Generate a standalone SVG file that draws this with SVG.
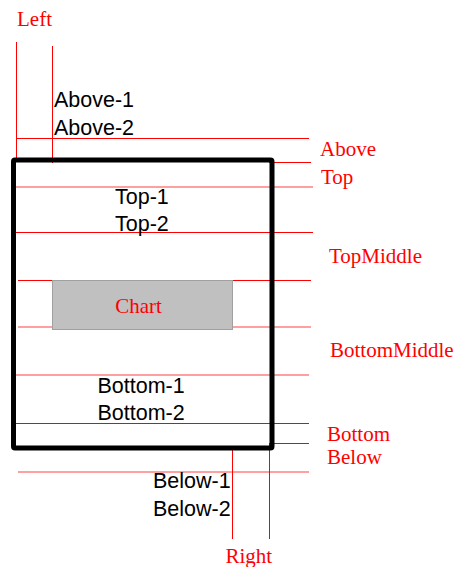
<svg xmlns="http://www.w3.org/2000/svg" width="457" height="567" viewBox="0 0 457 567">
<style>
.g{stroke:#ff0000;stroke-width:1;fill:none}
.s{stroke:#ff8080;stroke-width:1.5;fill:none}
.lbl{font-family:"Liberation Serif",serif;font-size:21px;fill:#ff0000}
.txt{font-family:"Liberation Sans",Arial,sans-serif;font-size:21.5px;fill:#000000}
</style>
<rect width="457" height="567" fill="#ffffff"/>
<g id="connectors">
<line class="g" x1="16.5" y1="42" x2="16.5" y2="162"/>
<line class="g" x1="52.5" y1="46" x2="52.5" y2="163"/>
<line class="g" x1="16" y1="138.5" x2="309" y2="138.5"/>
<line class="g" x1="269" y1="162.5" x2="311" y2="162.5"/>
<line class="s" x1="16" y1="187" x2="313" y2="187"/>
<line class="g" x1="16" y1="232.5" x2="313" y2="232.5"/>
<line class="g" x1="18" y1="280.5" x2="311" y2="280.5"/>
<line class="s" x1="18" y1="327" x2="311" y2="327"/>
<line class="s" x1="16" y1="375" x2="309" y2="375"/>
<line class="g" x1="16" y1="423.5" x2="309" y2="423.5"/>
<line class="g" x1="269" y1="443.5" x2="309" y2="443.5"/>
<line class="s" x1="18" y1="472" x2="309" y2="472"/>
<line class="g" x1="232.5" y1="446" x2="232.5" y2="539"/>
<line class="g" x1="269.5" y1="443" x2="269.5" y2="539"/>
</g>
<g id="frame">
<rect x="13.5" y="160" width="258.5" height="288" rx="1.5" fill="none" stroke="#000000" stroke-width="5"/>
</g>
<g id="chart">
<rect x="52.5" y="280.5" width="180" height="49" fill="#c0c0c0" stroke="#a0a0a0" stroke-width="1"/>
<text class="lbl" x="138.5" y="312.5" text-anchor="middle">Chart</text>
</g>
<g id="above-text">
<text class="txt" x="54" y="107">Above-1</text>
<text class="txt" x="54" y="135">Above-2</text>
</g>
<g id="top-text">
<text class="txt" x="115" y="204">Top-1</text>
<text class="txt" x="115" y="231">Top-2</text>
</g>
<g id="bottom-text">
<text class="txt" x="97.5" y="392.5">Bottom-1</text>
<text class="txt" x="97.5" y="420">Bottom-2</text>
</g>
<g id="below-text">
<text class="txt" x="153" y="488">Below-1</text>
<text class="txt" x="153" y="516">Below-2</text>
</g>
<g id="labels">
<text class="lbl" x="17" y="26">Left</text>
<text class="lbl" x="320" y="156">Above</text>
<text class="lbl" x="321" y="184">Top</text>
<text class="lbl" x="329" y="263">TopMiddle</text>
<text class="lbl" x="330" y="357">BottomMiddle</text>
<text class="lbl" x="327" y="440.5">Bottom</text>
<text class="lbl" x="327" y="464">Below</text>
<text class="lbl" x="225.5" y="562.5">Right</text>
</g>
</svg>
